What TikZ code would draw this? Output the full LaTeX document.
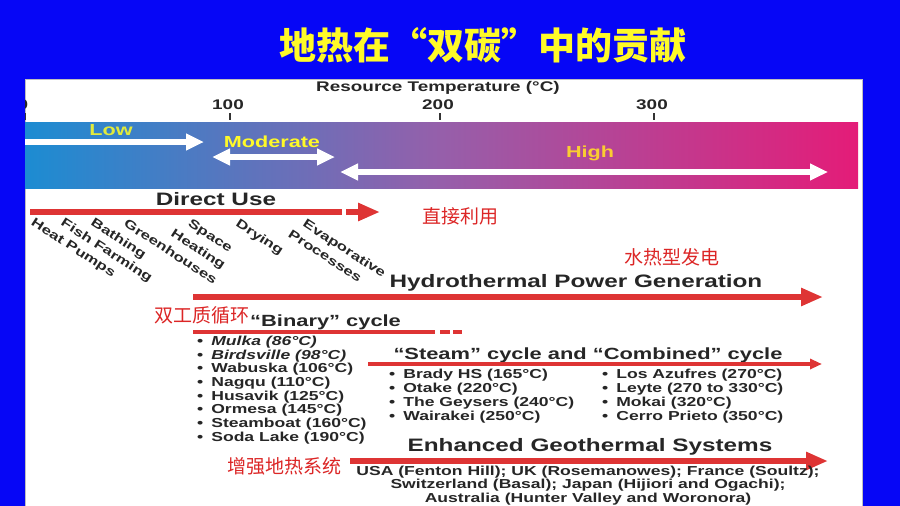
\documentclass[tikz,border=0pt]{standalone}
\usepackage{fontspec}
\setmainfont{Liberation Sans}[FakeStretch=1.35]
\newfontfamily\cjk{Noto Sans CJK SC}
\usetikzlibrary{arrows.meta}
\definecolor{slideblue}{RGB}{6,6,246}
\definecolor{titleyellow}{RGB}{255,250,40}
\definecolor{barblue}{RGB}{28,140,210}
\definecolor{barpurple}{RGB}{150,95,170}
\definecolor{barpink}{RGB}{228,28,120}
\definecolor{arrowred}{RGB}{222,52,52}
\definecolor{cnred}{RGB}{220,38,38}
\definecolor{lowyellow}{RGB}{225,235,60}
\definecolor{highyellow}{RGB}{250,205,50}

\begin{document}
\begin{tikzpicture}[x=1pt, y=-1pt,
    every node/.style={inner sep=0pt, text=black!85},
    titletext/.style={font=\cjk\bfseries\fontsize{37}{37}\selectfont, text=titleyellow},
    cnlabel/.style={font=\cjk\fontsize{19}{19}\selectfont, text=cnred},
    heading/.style={font=\bfseries\fontsize{18}{18}\selectfont},
    subheading/.style={font=\bfseries\fontsize{16.2}{16.2}\selectfont},
    axislabel/.style={font=\bfseries\fontsize{14}{14}\selectfont},
    rangelabel/.style={font=\bfseries\fontsize{16}{16}\selectfont},
    item/.style={font=\bfseries\fontsize{13}{13}\selectfont, anchor=west},
    uselabel/.style={font=\bfseries\fontsize{12.5}{12.5}\selectfont, rotate=-33, anchor=north west},
    whitearrow/.style={white, line width=6pt, -{Triangle[length=18pt,width=16pt]}},
    whitedouble/.style={white, line width=6pt, {Triangle[length=18pt,width=16pt]}-{Triangle[length=18pt,width=16pt]}},
    redbar/.style={arrowred, line width=6pt},
    redarrow/.style={arrowred, line width=6pt, -{Triangle[length=22pt,width=17pt]}},
    thinred/.style={arrowred, line width=3.5pt},
    thinarrow/.style={thinred, -{Triangle[length=12pt,width=10pt]}}]

\useasboundingbox (0,0) rectangle (900,506);
\fill[slideblue] (0,0) rectangle (900,506);
\node[titletext] (title) at (483,45) {地热在“双碳”中的贡献};

% white panel and temperature bar
\fill[white, draw=gray!50] (25,79) rectangle (862,520);
\shade[left color=barblue, right color=barpink, middle color=barpurple] (25,122) rectangle (858,188);

\node[axislabel] (restemp) at (438,88) {Resource Temperature (°C)};
\begin{scope}
  \clip (25,79) rectangle (862,506);
  \foreach \t/\x in {0/23,100/228,200/438,300/652}{
    \node[axislabel] (t\t) at (\x,105) {\t};
    \draw[black!80, line width=1.2pt] (\x+2,113) -- (\x+2,120);
  }
\end{scope}

% temperature ranges
\node[rangelabel, text=lowyellow] (low) at (111,130) {Low};
\node[rangelabel, text=titleyellow] (moderate) at (272,142) {Moderate};
\node[rangelabel, text=highyellow] (high) at (590,153) {High};
\coordinate (low0) at (25,142); \coordinate (low1) at (204,142);
\coordinate (mod0) at (212,157); \coordinate (mod1) at (335,157);
\coordinate (high0) at (340,172); \coordinate (high1) at (828,172);
\draw[whitearrow] (low0) -- (low1);
\draw[whitedouble] (mod0) -- (mod1);
\draw[whitedouble] (high0) -- (high1);

% direct use
\node[heading] (direct) at (216,199) {Direct Use};
\node[cnlabel] (directcn) at (460,216) {直接利用};
\coordinate (dir0) at (30,212); \coordinate (dir1) at (342,212);
\coordinate (dir2) at (346,212); \coordinate (dir3) at (380,212);
\draw[redbar] (dir0) -- (dir1);
\draw[redarrow] (dir2) -- (dir3);
\node[uselabel] (heatpumps) at (35,217) {Heat Pumps};
\node[uselabel] (fish) at (65,217) {Fish Farming};
\node[uselabel] (bathing) at (95,217) {Bathing};
\node[uselabel] (greenhouses) at (128,218) {Greenhouses};
\node[uselabel] (space) at (192,218) {Space};
\node[uselabel] (heating) at (175,228) {Heating};
\node[uselabel] (drying) at (240,218) {Drying};
\node[uselabel] (evaporative) at (307,218) {Evaporative};
\node[uselabel] (processes) at (292,229) {Processes};

% hydrothermal
\node[cnlabel] (hydrocn) at (672,257) {水热型发电};
\node[heading] (hydro) at (576,283) {Hydrothermal Power Generation};
\coordinate (hyd0) at (193,297); \coordinate (hyd1) at (823,297);
\draw[redarrow] (hyd0) -- (hyd1);

% binary cycle
\node[cnlabel] (binarycn) at (202,315) {双工质循环};
\node[subheading, anchor=west] (binary) at (250,322) {“Binary” cycle};
\coordinate (binA) at (193,332); \coordinate (binB) at (435,332);
\coordinate (binC) at (440,332); \coordinate (binD) at (462,332);
\draw[thinred] (binA) -- (binB);
\draw[thinred, dash pattern=on 10pt off 3pt] (binC) -- (binD);
\foreach \plant [count=\i] in {\textit{Mulka (86°C)}, \textit{Birdsville (98°C)}, Wabuska (106°C), Nagqu (110°C), Husavik (125°C), Ormesa (145°C), Steamboat (160°C), Soda Lake (190°C)}
  \node[item] (binplant\i) at (197,{342+13.7*(\i-1)}) {•\hspace{8pt}\plant};

% steam and combined cycle
\node[subheading] (steam) at (588,355) {“Steam” cycle and “Combined” cycle};
\coordinate (stm0) at (368,364); \coordinate (stm1) at (822,364);
\draw[thinarrow] (stm0) -- (stm1);
\foreach \plant [count=\i] in {Brady HS (165°C), Otake (220°C), The Geysers (240°C), Wairakei (250°C)}
  \node[item] (steamL\i) at (389,{375+14*(\i-1)}) {•\hspace{8pt}\plant};
\foreach \plant [count=\i] in {Los Azufres (270°C), Leyte (270 to 330°C), Mokai (320°C), Cerro Prieto (350°C)}
  \node[item] (steamR\i) at (602,{375+14*(\i-1)}) {•\hspace{8pt}\plant};

% enhanced geothermal systems
\node[heading] (egs) at (590,447) {Enhanced Geothermal Systems};
\node[cnlabel] (egscn) at (284,466) {增强地热系统};
\coordinate (egs0) at (350,461); \coordinate (egs1) at (828,461);
\draw[redarrow] (egs0) -- (egs1);
\node[item, anchor=north, align=center, font=\bfseries\fontsize{13}{13.6}\selectfont] (egssites) at (588,465.5)
  {USA (Fenton Hill); UK (Rosemanowes); France (Soultz);\\ Switzerland (Basal); Japan (Hijiori and Ogachi);\\ Australia (Hunter Valley and Woronora)};
\end{tikzpicture}
\end{document}
